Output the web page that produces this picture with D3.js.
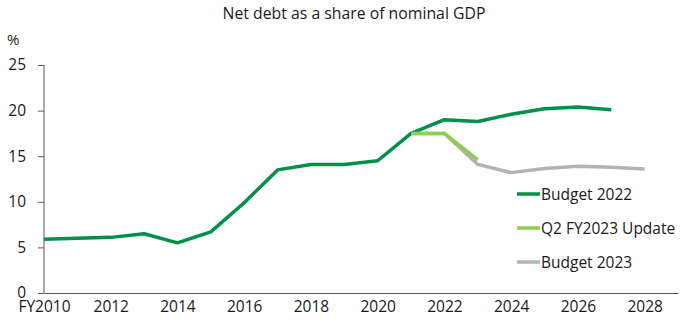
<!DOCTYPE html>
<html><head><meta charset="utf-8">
<script src="https://cdn.jsdelivr.net/npm/d3@7"></script>
<style>body{margin:0;background:#fff}svg{display:block}text{font-family:"Open Sans",sans-serif;fill:#1a1a1a}</style>
</head><body><svg id="c" width="683" height="320"></svg>
<script>
const years = [2010,2011,2012,2013,2014,2015,2016,2017,2018,2019,2020,2021,2022,2023,2024,2025,2026,2027,2028];
const budget2022 = [5.9,6.0,6.1,6.5,5.5,6.7,9.9,13.5,14.1,14.1,14.5,17.5,19.0,18.8,19.6,20.2,20.4,20.1,null];
const q2Update = [null,null,null,null,null,null,null,null,null,null,null,17.5,17.5,14.6,null,null,null,null,null];
const budget2023 = [null,null,null,null,null,null,null,null,null,null,null,17.5,17.5,14.1,13.2,13.65,13.9,13.8,13.6];
const xTicks = [2010,2012,2014,2016,2018,2020,2022,2024,2026,2028];
const yTicks = [0,5,10,15,20,25];
const seriesNames = ["Budget 2022","Q2 FY2023 Update","Budget 2023"];
const colors = {"Budget 2022":"#00904a","Q2 FY2023 Update":"#8ccf4d","Budget 2023":"#b3b3b3"};

const svg = d3.select("#c");
const x = d3.scaleLinear().domain([2010,2029]).range([44,678]);
const y = d3.scaleLinear().domain([0,25]).range([293,65]);

svg.append("text").attr("x",354).attr("y",19).attr("text-anchor","middle").attr("font-size",15.8).text("Net debt as a share of nominal GDP");
svg.append("text").attr("x",7).attr("y",45).attr("font-size",15).text("%");

const ya = svg.append("g").attr("transform","translate(44,0)")
  .call(d3.axisLeft(y).tickValues(yTicks).tickSize(6).tickPadding(12).tickFormat(d3.format("d")));
ya.select(".domain").attr("stroke","#595959").attr("d","M0,"+y(25)+"V"+y(0));
ya.selectAll(".tick line").attr("stroke","#595959");
ya.selectAll("text").attr("font-size",15.5).attr("font-family","Open Sans").attr("fill","#1a1a1a");

const xa = svg.append("g").attr("transform","translate(0,293)")
  .call(d3.axisBottom(x).tickValues(xTicks).tickSize(0).tickPadding(8).tickFormat(d=> d===2010?"FY2010":String(d)));
xa.select(".domain").attr("stroke","#595959");
xa.selectAll("text").attr("font-size",15.5).attr("font-family","Open Sans").attr("fill","#1a1a1a");

const line = d3.line().defined(d=>d[1]!=null).x(d=>x(d[0])).y(d=>y(d[1]));
const data = {"Budget 2022":budget2022,"Q2 FY2023 Update":q2Update,"Budget 2023":budget2023};
["Budget 2022","Budget 2023","Q2 FY2023 Update"].forEach(n=>{
  svg.append("path").attr("d",line(years.map((yr,i)=>[yr,data[n][i]])))
    .attr("fill","none").attr("stroke",colors[n]).attr("stroke-width",3.5).attr("stroke-linejoin","round");
});

const lg = svg.append("g");
seriesNames.forEach((n,i)=>{
  const yy = 194 + i*34;
  lg.append("line").attr("x1",517).attr("x2",540).attr("y1",yy).attr("y2",yy).attr("stroke",colors[n]).attr("stroke-width",3.5);
  lg.append("text").attr("x",541).attr("y",yy+5.5).attr("font-size",15.5).text(n);
});
</script></body></html>
